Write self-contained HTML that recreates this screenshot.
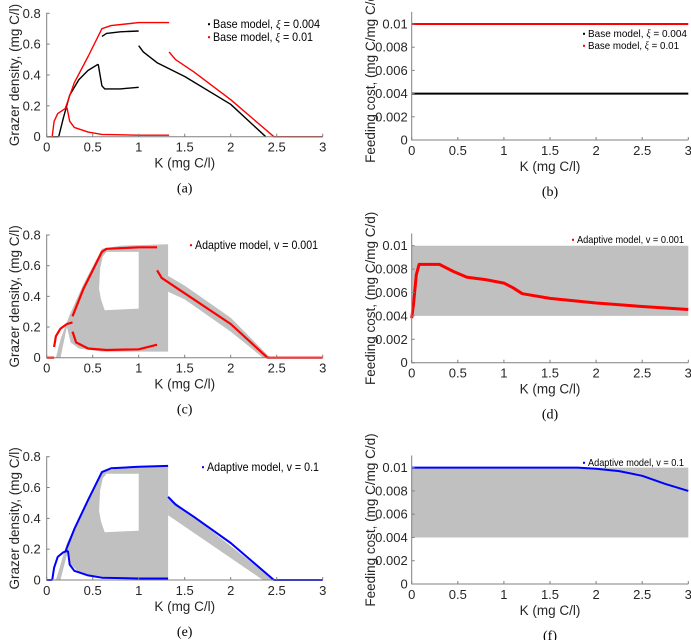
<!DOCTYPE html>
<html><head><meta charset="utf-8">
<style>
html,body{margin:0;padding:0;background:#fff;}
svg{display:block;font-family:"Liberation Sans",sans-serif;}
</style></head>
<body>
<svg id="fig" width="691" height="640" viewBox="0 0 691 640"></svg>
<script>
// ---- data ----
const aBlackZero=[[0,0],[0.13,0]];
const aBlackRise=[[0.13,0],[0.18,0.12],[0.25,0.27],[0.35,0.37],[0.45,0.43],[0.56,0.47]];
const aBlackUpper=[[0.6,0.65],[0.65,0.67],[0.8,0.68],[1.0,0.685]];
const aBlackLower=[[0.56,0.47],[0.6,0.33],[0.63,0.31],[0.8,0.31],[1.0,0.32]];
const aBlackRight=[[1.0,0.59],[1.05,0.55],[1.2,0.48],[1.5,0.39],[2.0,0.21],[2.38,0]];
const aRedZero=[[0,0],[0.06,0]];
const aRedRise=[[0.06,0],[0.08,0.1],[0.12,0.15],[0.22,0.19]];
const aRedUpper=[[0.2,0.18],[0.3,0.35],[0.45,0.52],[0.6,0.7],[0.7,0.72],[1.0,0.74],[1.33,0.74]];
const aRedLower=[[0.22,0.19],[0.25,0.1],[0.3,0.06],[0.45,0.03],[0.6,0.015],[1.0,0.01],[1.33,0.01]];
const aRedRight=[[1.33,0.55],[1.4,0.5],[1.6,0.42],[2.0,0.24],[2.47,0],[3,0]];

const bBlack=[[0,0.004],[3,0.004]];
const bRed=[[0,0.01],[3,0.01]];

const cGray=[[0.1,0],[0.15,0],[0.22,0.2],[0.26,0.1],[0.35,0.06],[0.6,0.04],[1.32,0.04],[1.32,0.74],[0.8,0.73],[0.6,0.71],[0.4,0.48],[0.25,0.28],[0.15,0.12]];
const holeGray=[[0.57,0.45],[0.58,0.58],[0.61,0.66],[0.65,0.69],[1.0,0.69],[1.0,0.32],[0.63,0.31],[0.59,0.38]];
const cWedge=[[1.3,0.54],[1.5,0.47],[2.0,0.26],[2.43,0],[2.35,0],[2.0,0.17],[1.5,0.38],[1.32,0.43]];
const cRed=[
 [[0,0],[0.08,0]],
 [[0.08,0.07],[0.1,0.14],[0.15,0.19],[0.22,0.22],[0.28,0.23]],
 [[0.28,0.27],[0.4,0.45],[0.6,0.69],[0.65,0.71],[1.0,0.72],[1.2,0.72]],
 [[0.28,0.17],[0.32,0.1],[0.45,0.06],[0.65,0.05],[1.0,0.055],[1.2,0.085]],
 [[1.2,0.57],[1.25,0.52],[1.5,0.42],[2.0,0.22],[2.4,0],[3,0]]
];

const dBand=[[0,0.004],[3,0.004],[3,0.01],[0,0.01]];
const dRed=[[0,0.0038],[0.02,0.005],[0.05,0.0075],[0.08,0.0084],[0.3,0.0084],[0.45,0.0078],[0.6,0.0073],[0.8,0.0071],[1.0,0.0068],[1.1,0.0064],[1.2,0.0059],[1.5,0.0055],[2.0,0.0051],[2.5,0.0048],[3.0,0.00455]];

const eGray=[[0.1,0],[0.15,0],[0.23,0.19],[0.26,0.1],[0.35,0.05],[0.6,0.015],[1.32,0.01],[1.32,0.74],[0.8,0.73],[0.6,0.7],[0.4,0.46],[0.22,0.24],[0.15,0.1]];
const eWedge=[[1.32,0.54],[2.47,0],[2.35,0],[1.32,0.42]];
const eBlue=[
 [[0,0],[0.06,0]],
 [[0.06,0],[0.08,0.08],[0.12,0.15],[0.18,0.18],[0.23,0.19]],
 [[0.2,0.18],[0.3,0.33],[0.45,0.52],[0.6,0.7],[0.7,0.725],[1.0,0.735],[1.32,0.74]],
 [[0.23,0.19],[0.25,0.1],[0.3,0.06],[0.45,0.03],[0.6,0.015],[1.0,0.01],[1.32,0.01]],
 [[1.32,0.54],[1.4,0.49],[1.6,0.41],[2.0,0.24],[2.47,0],[3,0]]
];
const fBlue=[[0,0.01],[1.8,0.01],[2.0,0.0099],[2.25,0.0097],[2.5,0.0093],[2.75,0.0086],[3,0.008]];

const xTicks=[0,0.5,1,1.5,2,2.5,3];
const xTickLabels=["0","0.5","1","1.5","2","2.5","3"];
const gTicks=[0,0.2,0.4,0.6,0.8];
const gTickLabels=["0","0.2","0.4","0.6","0.8"];
const fTicks=[0,0.002,0.004,0.006,0.008,0.01];
const fTickLabels=["0","0.002","0.004","0.006","0.008","0.01"];

// ---- drawing ----
const NS="http://www.w3.org/2000/svg";
const svg=document.getElementById('fig');
function mk(tag,attrs,parent){const e=document.createElementNS(NS,tag);for(const k in attrs)e.setAttribute(k,attrs[k]);(parent||svg).appendChild(e);return e;}

function panel(cfg){
  const g=mk('g',{});
  
  
  const sx=v=>cfg.x0+(cfg.x1-cfg.x0)*v/3;
  const sy=v=>cfg.yb-(cfg.yb-cfg.yt)*v/cfg.ymax;
  const pts=a=>a.map(p=>sx(p[0]).toFixed(1)+','+sy(p[1]).toFixed(1)).join(' ');
  cfg.polys.forEach(p=>{
    const e=mk('polygon',{points:pts(p.d),fill:p.fill},g);
    
    
  });
  cfg.lines.forEach(l=>{
    const e=mk('polyline',{points:pts(l.d),fill:'none',stroke:l.c,'stroke-width':l.w||1.4,'stroke-linejoin':'round'},g);
    
    
  });
  const ax=mk('path',{d:`M${cfg.x0},${cfg.yt-0.5}V${cfg.yb}H${cfg.x1}`,fill:'none',stroke:'#808080','stroke-width':1},g);
  
  
  xTicks.forEach((t,i)=>{
    mk('line',{x1:sx(t),x2:sx(t),y1:cfg.yb,y2:cfg.yb-3,stroke:'#808080'},g);
    const tx=mk('text',{x:sx(t),y:cfg.yb+15,'text-anchor':'middle','font-size':13,fill:'#262626'},g);
    tx.textContent=xTickLabels[i];
    
    
  });
  cfg.yTicks.forEach((t,i)=>{
    mk('line',{x1:cfg.x0,x2:cfg.x0+3,y1:sy(t),y2:sy(t),stroke:'#808080'},g);
    const tx=mk('text',{x:cfg.x0-cfg.tgap,y:sy(t)+4.5,'text-anchor':'end','font-size':13,fill:'#262626'},g);
    tx.textContent=cfg.yLabels[i];
    
    
  });
  const xl=mk('text',{x:(cfg.x0+cfg.x1)/2,y:cfg.yb+31,'text-anchor':'middle','font-size':13.5,fill:'#262626'},g);
  xl.textContent='K (mg C/l)';
  
  
  const yc=(cfg.yt+cfg.yb)/2;
  const yl=mk('text',{x:cfg.ylx,y:yc,'text-anchor':'middle','font-size':13.5,fill:'#262626',transform:`rotate(-90 ${cfg.ylx} ${yc})`},g);
  yl.textContent=cfg.ylabel;
  
  
  const cap=mk('text',{x:(cfg.x0+cfg.x1)/2,y:cfg.yb+56,'text-anchor':'middle','font-size':14,'font-family':'Liberation Serif, serif',fill:'#000'},g);
  cap.textContent='('+cfg.id+')';
  
  
  cfg.legend.forEach((L,i)=>{
    const y=cfg.lgy+i*cfg.lgdy;
    mk('rect',{x:cfg.lgx-5,y:y-cfg.lgfs*0.4,width:2,height:2,fill:L.c},g);
    const t=mk('text',{x:cfg.lgx,y:y,'font-size':cfg.lgfs,fill:'#000',textLength:L.w,lengthAdjust:'spacingAndGlyphs'},g);
    t.innerHTML=L.t;
    
    
  });
}
const XI='<tspan font-style="italic" font-family="Liberation Serif, serif">ξ</tspan>';
const GL='Grazer density, (mg C/l)', FL='Feeding cost, (mg C/mg C/d)';
panel({id:'a',x0:46.7,x1:322.7,yt:13.3,yb:136.7,ymax:0.8,yTicks:gTicks,yLabels:gTickLabels,ylabel:GL,ylx:19,tgap:6,
 polys:[],lines:[
  {d:aBlackZero,c:'#000',name:'black-zero'},{d:aBlackRise,c:'#000',name:'black-rise'},{d:aBlackUpper,c:'#000',name:'black-upper'},
  {d:aBlackLower,c:'#000',name:'black-lower'},{d:aBlackRight,c:'#000',name:'black-right'},
  {d:aRedZero,c:'#f00',name:'red-zero'},{d:aRedRise,c:'#f00',name:'red-rise'},{d:aRedUpper,c:'#f00',name:'red-upper'},
  {d:aRedLower,c:'#f00',name:'red-lower'},{d:aRedRight,c:'#f00',name:'red-right'}],
 lgx:213,lgy:28,lgdy:13,lgfs:12,legend:[{c:'#000',t:'Base model, '+XI+' = 0.004',w:107},{c:'#f00',t:'Base model, '+XI+' = 0.01',w:100}]});
panel({id:'b',x0:411.7,x1:688.3,yt:12.4,yb:140,ymax:0.011,yTicks:fTicks,yLabels:fTickLabels,ylabel:FL,ylx:375,tgap:4,
 polys:[],lines:[{d:bBlack,c:'#000',w:2,name:'black-cost'},{d:bRed,c:'#f00',w:2,name:'red-cost'}],
 lgx:588,lgy:37,lgdy:12,lgfs:10.5,legend:[{c:'#000',t:'Base model, '+XI+' = 0.004',w:99},{c:'#f00',t:'Base model, '+XI+' = 0.01',w:91}]});
panel({id:'c',x0:46.7,x1:322.7,yt:235,yb:357.7,ymax:0.8,yTicks:gTicks,yLabels:gTickLabels,ylabel:GL,ylx:19,tgap:6,
 polys:[{d:cGray,fill:'#c0c0c0',name:'gray-range'},{d:cWedge,fill:'#c0c0c0',name:'gray-wedge'},{d:holeGray,fill:'#fff',name:'gray-hole'}],
 lines:cRed.map((d,i)=>({d:d,c:'#f00',w:2.2,name:'red-branch-'+i})),
 lgx:195,lgy:249,lgdy:12,lgfs:12,legend:[{c:'#f00',t:'Adaptive model, v = 0.001',w:123}]});
panel({id:'d',x0:411.7,x1:688.3,yt:234,yb:362.7,ymax:0.011,yTicks:fTicks,yLabels:fTickLabels,ylabel:FL,ylx:375,tgap:4,
 polys:[{d:dBand,fill:'#c0c0c0',name:'gray-band'}],lines:[{d:dRed,c:'#f00',w:3,name:'red-cost'}],
 lgx:577,lgy:243,lgdy:12,lgfs:10.5,legend:[{c:'#f00',t:'Adaptive model, v = 0.001',w:107}]});
panel({id:'e',x0:46.7,x1:322.7,yt:456.7,yb:580,ymax:0.8,yTicks:gTicks,yLabels:gTickLabels,ylabel:GL,ylx:19,tgap:6,
 polys:[{d:eGray,fill:'#c0c0c0',name:'gray-range'},{d:eWedge,fill:'#c0c0c0',name:'gray-wedge'},{d:holeGray,fill:'#fff',name:'gray-hole'}],
 lines:eBlue.map((d,i)=>({d:d,c:'#00f',w:2,name:'blue-branch-'+i})),
 lgx:207,lgy:471,lgdy:12,lgfs:12,legend:[{c:'#00f',t:'Adaptive model, v = 0.1',w:112}]});
panel({id:'f',x0:411.7,x1:688.3,yt:456,yb:584,ymax:0.011,yTicks:fTicks,yLabels:fTickLabels,ylabel:FL,ylx:375,tgap:4,
 polys:[{d:dBand,fill:'#c0c0c0',name:'gray-band'}],lines:[{d:fBlue,c:'#00f',w:2,name:'blue-cost'}],
 lgx:588,lgy:466,lgdy:12,lgfs:10.5,legend:[{c:'#00f',t:'Adaptive model, v = 0.1',w:96}]});
</script>
</body></html>
